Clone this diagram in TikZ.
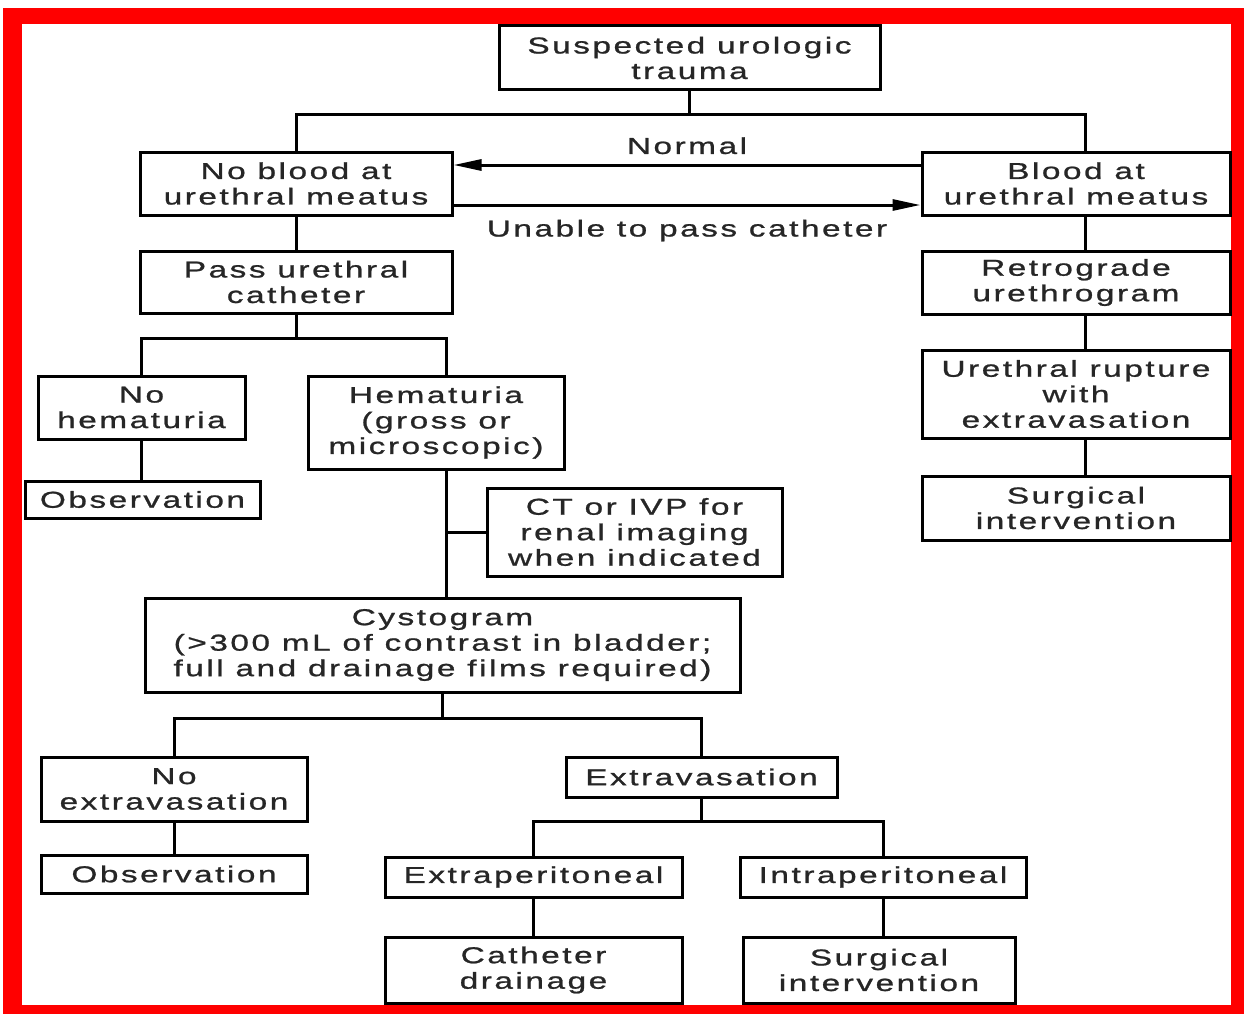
\documentclass[tikz,border=0pt]{standalone}
\usepackage{fontspec}
\setmainfont[FakeStretch=1.45,LetterSpace=11,FakeBold=1]{Liberation Sans}
\usetikzlibrary{arrows.meta}
\tikzset{
  box/.style={draw=black, line width=3pt, fill=white, align=center, inner sep=0pt,
    text=black!85, font=\fontsize{23}{25.5}\selectfont},
  link/.style={draw=black, line width=3pt},
  lbl/.style={text=black!85, font=\fontsize{23}{25.5}\selectfont}
}
\begin{document}
\begin{tikzpicture}[x=1pt,y=-1pt]
\useasboundingbox (0,0) rectangle (1244,1014);
\fill[white] (0,0) rectangle (1244,1014);
\fill[red] (3,8) rectangle (1244,1014);
\fill[white] (22,24) rectangle (1231,1005);

\node[box, minimum width=381pt, minimum height=64pt] (top) at (689.5,58) {Suspected urologic\\trauma};
\node[box, minimum width=312pt, minimum height=63pt] (nob) at (296,183.5) {No blood at\\urethral meatus};
\node[box, minimum width=308pt, minimum height=63pt] (blood) at (1076,183.5) {Blood at\\urethral meatus};
\node[box, minimum width=312pt, minimum height=62pt] (pass) at (296,282) {Pass urethral\\catheter};
\node[box, minimum width=207pt, minimum height=63pt] (noh) at (141.5,407.5) {No\\hematuria};
\node[box, minimum width=256pt, minimum height=93pt] (hem) at (436,422.5) {Hematuria\\(gross or\\microscopic)};
\node[box, minimum width=235pt, minimum height=37pt] (obs1) at (142.5,499.5) {Observation};
\node[box, minimum width=295pt, minimum height=88pt] (ct) at (634.5,532) {CT or IVP for\\renal imaging\\when indicated};
\node[box, minimum width=595pt, minimum height=94pt] (cys) at (442.5,645) {Cystogram\\(>300 mL of contrast in bladder;\\full and drainage films required)};
\node[box, minimum width=266pt, minimum height=64pt] (noext) at (174,789) {No\\extravasation};
\node[box, minimum width=271pt, minimum height=40pt] (ext) at (701.5,777) {Extravasation};
\node[box, minimum width=266pt, minimum height=38pt] (obs2) at (174,874) {Observation};
\node[box, minimum width=297pt, minimum height=40pt] (extrap) at (533.5,877) {Extraperitoneal};
\node[box, minimum width=286pt, minimum height=40pt] (intrap) at (883,877) {Intraperitoneal};
\node[box, minimum width=297pt, minimum height=66pt] (cath) at (533.5,970) {Catheter\\drainage};
\node[box, minimum width=272pt, minimum height=66pt] (surgb) at (879,970) {Surgical\\intervention};
\node[box, minimum width=308pt, minimum height=63pt] (retro) at (1076,282.5) {Retrograde\\urethrogram};
\node[box, minimum width=308pt, minimum height=88pt] (rupt) at (1076,394) {Urethral rupture\\with\\extravasation};
\node[box, minimum width=308pt, minimum height=64pt] (surga) at (1076,508) {Surgical\\intervention};

\draw[link] (top.south) -- ++(0,23) coordinate (j1);
\draw[link] (nob.north) |- (j1) -| ([xshift=9pt]blood.north);
\draw[link,-{Triangle[length=28pt,width=11pt]}] ([yshift=18.5pt]blood.west) -- ([yshift=18.5pt]nob.east)
  node[lbl, midway, above=6pt] {Normal};
\draw[link,-{Triangle[length=28pt,width=11pt]}] ([yshift=-21.5pt]nob.east) -- ([yshift=-21.5pt]blood.west)
  node[lbl, midway, below=10pt] {Unable to pass catheter};
\draw[link] (nob.south) -- (pass.north);
\draw[link] (pass.south) -- ++(0,24) coordinate (j2);
\draw[link] (noh.north) |- (j2) -| ([xshift=10pt]hem.north);
\draw[link] (noh.south) -- (obs1.north -| noh.south);
\coordinate (h) at ([xshift=10pt]hem.south);
\draw[link] (h) -- (h |- cys.north);
\draw[link] (ct.west) -- (ct.west -| h);
\draw[link] (cys.south) -- ++(0,25) coordinate (j3);
\draw[link] (noext.north) |- (j3) -| (ext.north);
\draw[link] (noext.south) -- (obs2.north);
\draw[link] (ext.south) -- ++(0,23) coordinate (j4);
\draw[link] (extrap.north) |- (j4) -| (intrap.north);
\draw[link] (extrap.south) -- (cath.north);
\draw[link] (intrap.south) -- (intrap.south |- surgb.north);
\draw[link] ([xshift=9pt]blood.south) -- ([xshift=9pt]retro.north);
\draw[link] ([xshift=9pt]retro.south) -- ([xshift=9pt]rupt.north);
\draw[link] ([xshift=9pt]rupt.south) -- ([xshift=9pt]surga.north);
\end{tikzpicture}
\end{document}
